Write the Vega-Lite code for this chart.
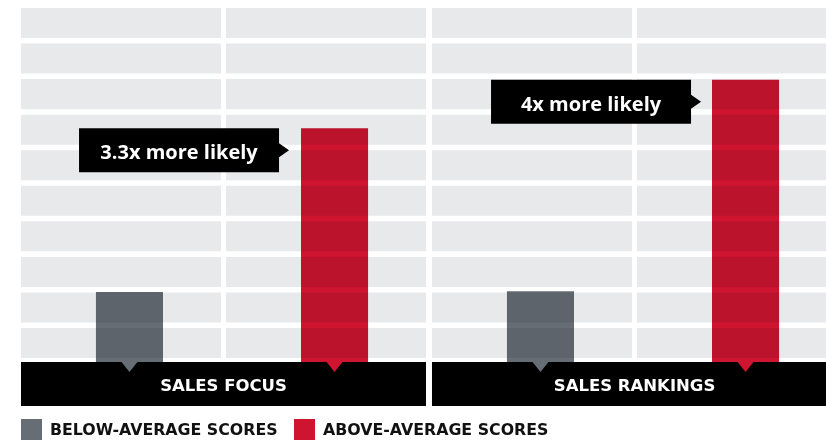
{
  "$schema": "https://vega.github.io/schema/vega-lite/v6.json",
  "padding": {"left": 21, "top": 8, "right": 0, "bottom": 0},
  "background": "white",
  "spacing": 6,
  "bounds": "flush",
  "config": {"view": {"stroke": null}},
  "datasets": {
    "bars": [
      {"panel": "SALES FOCUS", "group": "Below-average scores", "value": 1.98, "note": ""},
      {"panel": "SALES FOCUS", "group": "Above-average scores", "value": 6.6, "note": "3.3x more likely"},
      {"panel": "SALES RANKINGS", "group": "Below-average scores", "value": 2.0, "note": ""},
      {"panel": "SALES RANKINGS", "group": "Above-average scores", "value": 7.97, "note": "4x more likely"}
    ],
    "grid": [
      {"row": 0, "col": 0}, {"row": 0, "col": 1},
      {"row": 1, "col": 0}, {"row": 1, "col": 1},
      {"row": 2, "col": 0}, {"row": 2, "col": 1},
      {"row": 3, "col": 0}, {"row": 3, "col": 1},
      {"row": 4, "col": 0}, {"row": 4, "col": 1},
      {"row": 5, "col": 0}, {"row": 5, "col": 1},
      {"row": 6, "col": 0}, {"row": 6, "col": 1},
      {"row": 7, "col": 0}, {"row": 7, "col": 1},
      {"row": 8, "col": 0}, {"row": 8, "col": 1},
      {"row": 9, "col": 0}, {"row": 9, "col": 1}
    ]
  },
  "hconcat": [
    {
      "width": 405,
      "height": 354,
      "layer": [
        {
          "data": {"name": "grid"},
          "mark": {"type": "rect", "color": "#E8E9EB", "clip": true},
          "encoding": {
            "x": {"field": "col", "type": "ordinal", "axis": null, "scale": {"range": [0, 405], "paddingInner": 0.0247, "paddingOuter": 0}},
            "y": {"field": "row", "type": "ordinal", "axis": null, "sort": "descending", "scale": {"paddingInner": 0.156, "paddingOuter": 0.0556, "align": 0}}
          }
        },
        {
          "data": {"name": "bars"},
          "transform": [{"filter": "datum.panel === 'SALES FOCUS'"}],
          "layer": [
            {
              "transform": [{"filter": "datum.note !== ''"}],
              "mark": {"type": "bar", "orient": "horizontal", "color": "black", "height": 44, "yOffset": 22},
              "encoding": {
                "x": {"value": 0},
                "x2": {"value": "width"},
                "y": {"datum": 0, "type": "quantitative", "axis": null, "scale": {"domain": [0, 10], "nice": false, "padding": 0}}
              }
            },
            {
              "mark": {"type": "bar", "blend": "multiply"},
              "encoding": {
                "x": {"field": "group", "type": "nominal", "axis": null, "sort": ["Below-average scores", "Above-average scores"], "scale": {"range": [0, 405], "paddingInner": 0.673, "paddingOuter": 0.324, "align": 0.564}},
                "y": {"field": "value", "type": "quantitative", "axis": null, "scale": {"domain": [0, 10], "nice": false, "padding": 0}},
                "color": {"field": "group", "type": "nominal", "scale": {"domain": ["Below-average scores", "Above-average scores"], "range": ["#666D74", "#CF1430"]},
                  "legend": {"orient": "none", "legendX": 0, "legendY": 411, "direction": "horizontal", "columns": 2, "title": null, "symbolType": "square", "symbolSize": 441, "symbolStrokeWidth": 0, "symbolOpacity": 1, "labelFont": "DejaVu Sans", "labelFontWeight": "bold", "labelFontSize": 15.8, "labelColor": "#111111", "labelOffset": 8, "labelLimit": 400, "columnPadding": 16, "padding": 0, "labelExpr": "upper(datum.label)"}}
              }
            },
            {
              "mark": {"type": "point", "shape": "M-1,0L1,0L0,1.25Z", "size": 256, "filled": true, "opacity": 1, "strokeWidth": 0},
              "encoding": {
                "x": {"field": "group", "type": "nominal", "axis": null, "sort": ["Below-average scores", "Above-average scores"]},
                "y": {"datum": 0, "type": "quantitative"},
                "color": {"field": "group", "type": "nominal", "legend": null}
              }
            },
            {
              "transform": [{"filter": "datum.note !== ''"}],
              "mark": {"type": "point", "shape": "M-2.555,0H-0.555V0.15L-0.455,0.22L-0.555,0.29V0.44H-2.555Z", "size": 40000, "filled": true, "opacity": 1, "color": "black", "strokeWidth": 0},
              "encoding": {
                "x": {"field": "group", "type": "nominal", "axis": null, "sort": ["Below-average scores", "Above-average scores"]},
                "y": {"field": "value", "type": "quantitative"}
              }
            },
            {
              "transform": [{"filter": "datum.note !== ''"}],
              "mark": {"type": "text", "font": "Open Sans", "fontWeight": "bold", "fontSize": 20, "color": "white", "align": "center", "baseline": "alphabetic", "xOffset": -155.5, "yOffset": 31},
              "encoding": {
                "x": {"field": "group", "type": "nominal", "axis": null, "sort": ["Below-average scores", "Above-average scores"]},
                "y": {"field": "value", "type": "quantitative"},
                "text": {"field": "note"}
              }
            },
            {
              "transform": [{"filter": "datum.note !== ''"}],
              "mark": {"type": "text", "font": "DejaVu Sans", "fontWeight": "bold", "fontSize": 16.5, "color": "white", "align": "center", "baseline": "alphabetic", "yOffset": 29},
              "encoding": {
                "y": {"datum": 0, "type": "quantitative"},
                "text": {"field": "panel"}
              }
            }
          ]
        }
      ],
      "resolve": {"scale": {"x": "independent", "y": "independent"}}
    },
    {
      "width": 394,
      "height": 354,
      "layer": [
        {
          "data": {"name": "grid"},
          "mark": {"type": "rect", "color": "#E8E9EB", "clip": true},
          "encoding": {
            "x": {"field": "col", "type": "ordinal", "axis": null, "scale": {"range": [0, 405], "paddingInner": 0.0247, "paddingOuter": 0}},
            "y": {"field": "row", "type": "ordinal", "axis": null, "sort": "descending", "scale": {"paddingInner": 0.156, "paddingOuter": 0.0556, "align": 0}}
          }
        },
        {
          "data": {"name": "bars"},
          "transform": [{"filter": "datum.panel === 'SALES RANKINGS'"}],
          "layer": [
            {
              "transform": [{"filter": "datum.note !== ''"}],
              "mark": {"type": "bar", "orient": "horizontal", "color": "black", "height": 44, "yOffset": 22},
              "encoding": {
                "x": {"value": 0},
                "x2": {"value": "width"},
                "y": {"datum": 0, "type": "quantitative", "axis": null, "scale": {"domain": [0, 10], "nice": false, "padding": 0}}
              }
            },
            {
              "mark": {"type": "bar", "blend": "multiply"},
              "encoding": {
                "x": {"field": "group", "type": "nominal", "axis": null, "sort": ["Below-average scores", "Above-average scores"], "scale": {"range": [0, 405], "paddingInner": 0.673, "paddingOuter": 0.324, "align": 0.564}},
                "y": {"field": "value", "type": "quantitative", "axis": null, "scale": {"domain": [0, 10], "nice": false, "padding": 0}},
                "color": {"field": "group", "type": "nominal", "scale": {"domain": ["Below-average scores", "Above-average scores"], "range": ["#666D74", "#CF1430"]},
                  "legend": {"orient": "none", "legendX": 0, "legendY": 411, "direction": "horizontal", "columns": 2, "title": null, "symbolType": "square", "symbolSize": 441, "symbolStrokeWidth": 0, "symbolOpacity": 1, "labelFont": "DejaVu Sans", "labelFontWeight": "bold", "labelFontSize": 15.8, "labelColor": "#111111", "labelOffset": 8, "labelLimit": 400, "columnPadding": 16, "padding": 0, "labelExpr": "upper(datum.label)"}}
              }
            },
            {
              "mark": {"type": "point", "shape": "M-1,0L1,0L0,1.25Z", "size": 256, "filled": true, "opacity": 1, "strokeWidth": 0},
              "encoding": {
                "x": {"field": "group", "type": "nominal", "axis": null, "sort": ["Below-average scores", "Above-average scores"]},
                "y": {"datum": 0, "type": "quantitative"},
                "color": {"field": "group", "type": "nominal", "legend": null}
              }
            },
            {
              "transform": [{"filter": "datum.note !== ''"}],
              "mark": {"type": "point", "shape": "M-2.545,0H-0.545V0.15L-0.445,0.22L-0.545,0.29V0.44H-2.545Z", "size": 40000, "filled": true, "opacity": 1, "color": "black", "strokeWidth": 0},
              "encoding": {
                "x": {"field": "group", "type": "nominal", "axis": null, "sort": ["Below-average scores", "Above-average scores"]},
                "y": {"field": "value", "type": "quantitative"}
              }
            },
            {
              "transform": [{"filter": "datum.note !== ''"}],
              "mark": {"type": "text", "font": "Open Sans", "fontWeight": "bold", "fontSize": 20, "color": "white", "align": "center", "baseline": "alphabetic", "xOffset": -154.5, "yOffset": 31},
              "encoding": {
                "x": {"field": "group", "type": "nominal", "axis": null, "sort": ["Below-average scores", "Above-average scores"]},
                "y": {"field": "value", "type": "quantitative"},
                "text": {"field": "note"}
              }
            },
            {
              "transform": [{"filter": "datum.note !== ''"}],
              "mark": {"type": "text", "font": "DejaVu Sans", "fontWeight": "bold", "fontSize": 16.5, "color": "white", "align": "center", "baseline": "alphabetic", "xOffset": 5.5, "yOffset": 29},
              "encoding": {
                "y": {"datum": 0, "type": "quantitative"},
                "text": {"field": "panel"}
              }
            }
          ]
        }
      ],
      "resolve": {"scale": {"x": "independent", "y": "independent"}}
    }
  ]
}
